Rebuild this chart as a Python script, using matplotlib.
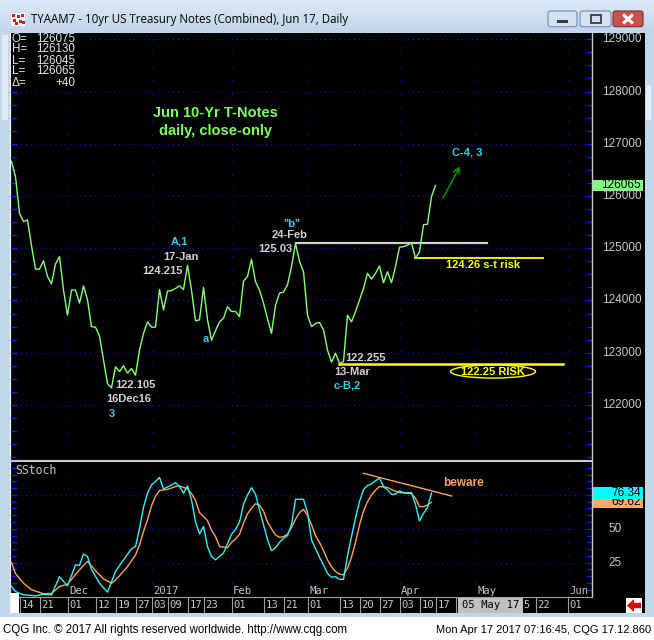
import numpy as np
import matplotlib
matplotlib.use('Agg')
import matplotlib.pyplot as plt
from matplotlib.patches import Rectangle, Ellipse, Polygon, FancyBboxPatch
from matplotlib.transforms import blended_transform_factory as blend
from matplotlib.colors import LinearSegmentedColormap

plt.rcParams['font.family'] = ['Liberation Sans', 'DejaVu Sans']

W, H = 654, 640

# ---------------- data ----------------
# daily closes (points), trading-day index 0 = 10-Nov-2016 ... 106 = 17-Apr-2017
closes = [126.66, 126.37, 125.67, 125.51, 125.54, 125.05, 124.60, 124.60, 124.76, 124.46,
          124.32, 124.70, 124.84, 124.20, 123.72, 124.20, 124.20, 123.95, 124.28, 124.01,
          123.50, 123.49, 123.32, 122.86, 122.41, 122.328, 122.73, 122.64, 122.75, 122.61,
          122.70, 122.57, 123.05, 123.37, 123.59, 123.49, 123.49, 124.21, 123.82, 124.18,
          124.19, 124.23, 124.28, 124.21, 124.672, 124.20, 123.61, 123.63, 124.25, 123.63,
          123.24, 123.42, 123.59, 123.66, 123.88, 123.79, 123.79, 123.69, 124.37, 124.46,
          124.79, 124.36, 124.20, 123.95, 123.65, 123.37, 123.91, 124.14, 124.16, 124.30,
          124.65, 125.094, 124.75, 124.55, 123.72, 123.50, 123.56, 123.58, 123.44, 123.05,
          122.82, 122.99, 122.797, 122.83, 123.72, 123.59, 123.79, 124.01, 124.23, 124.52,
          124.41, 124.52, 124.66, 124.34, 124.55, 124.34, 124.65, 125.02, 125.03, 125.06,
          125.10, 124.8125, 124.93, 125.45, 125.46, 125.99, 126.203]

stoch_k_idx = [0, 1, 3, 6, 8, 10, 12, 14, 16, 17, 18, 19, 20, 22, 24, 26, 28, 30, 31, 32,
               33, 34, 35, 36, 37, 38, 40, 41, 42, 43, 44, 45, 46, 47, 48, 49, 50, 51, 53, 55,
               56, 57, 58, 59, 60, 61, 62, 63, 64, 65, 66, 67, 68, 69, 70, 71, 73, 74, 75, 76,
               77, 78, 79, 80, 81, 82, 83, 84, 85, 86, 87, 88, 89, 90, 91, 92, 93, 94, 95, 96,
               97, 98, 99, 100, 101, 102, 103, 104, 105]
stoch_k_val = [7.5, 3.6, 1.2, 0.5, 1.7, 1.2, 14.6, 7.8, 23.3, 23.0, 31.4, 29.5, 20.0, 9.8, 3.2, 18.5, 27.1, 35.2, 36.9, 50.0,
               66.0, 76.3, 82.4, 84.9, 88.0, 79.4, 82.4, 84.1, 81.2, 76.3, 81.7, 71.3, 55.3, 46.2, 51.7, 36.9, 29.5, 27.1, 32.0, 46.0,
               49.5, 55.0, 68.0, 75.0, 80.4, 75.5, 64.0, 53.0, 42.0, 33.9, 36.0, 40.0, 43.0, 45.0, 53.0, 71.8, 71.8, 62.0, 41.8, 35.5,
               29.0, 23.3, 17.0, 14.2, 14.6, 12.7, 12.7, 30.0, 44.3, 58.0, 70.0, 79.0, 82.0, 83.2, 85.5, 87.4, 81.2, 78.7, 75.5, 75.5,
               78.0, 76.7, 76.7, 76.7, 68.0, 55.8, 61.4, 65.8, 76.34]

stoch_d_idx = [0, 1, 3, 5, 8, 10, 12, 14, 17, 19, 21, 23, 25, 26, 29, 31, 32, 33, 34, 35,
               36, 37, 39, 41, 42, 44, 45, 46, 47, 49, 50, 51, 52, 54, 55, 56, 57, 58, 59, 60,
               61, 62, 63, 64, 65, 66, 67, 68, 69, 70, 71, 72, 73, 74, 75, 76, 77, 78, 79, 80,
               81, 82, 83, 84, 85, 86, 87, 88, 89, 90, 91, 92, 94, 95, 97, 100, 101, 102, 103, 104,
               105]
stoch_d_val = [25, 17, 9.8, 5, 2, 2.3, 7.3, 9.1, 19.7, 26, 19, 13, 9.8, 12, 22.1, 30.7, 38, 48, 56.6, 67,
               74, 78.2, 79.1, 81.2, 81.7, 79.4, 76, 71, 62, 56, 49, 44.3, 37, 36, 40, 42.5, 46, 54.1, 61, 65.2,
               68.5, 67.5, 63, 55, 50, 45.4, 43.7, 44.2, 46, 51, 57, 62, 64.4, 60, 53, 45, 40, 33.9, 27, 22,
               18.4, 16.5, 16, 20.9, 29, 40, 52.9, 63, 70, 75, 78.5, 81.2, 80.5, 79, 76.7, 76, 72.5, 66.4, 66.4, 67.5,
               69.62]

price_ticks = [122, 123, 124, 125, 126, 127, 128, 129]
stoch_labels = [25, 50]
day_tick_idx = [2, 7, 14, 21, 26, 31, 35, 39, 44, 48, 55, 63, 68, 74, 82, 87, 92, 97, 102, 106,
                111, 116, 121, 126, 131, 139]
day_tick_lbl = ['14', '21', '01', '12', '19', '27', '03', '09', '17', '23', '01', '13', '21', '01', '13',
                '20', '27', '03', '10', '17', '24', '01', '08', '15', '22', '01']
cursor_date_lbl = '05 May 17'
month_idx = [14, 35, 55, 74, 97, 116, 139]
month_lbl = ['Dec', '2017', 'Feb', 'Mar', 'Apr', 'May', 'Jun']

info_keys = ['O=', 'H=', 'L=', 'L=', '\u0394=']
info_vals = ['126075', '126130', '126045', '126065', '+40']
last_price_lbl = '126065'
stoch_k_last, stoch_d_last = 76.34, 69.62

# ---------------- figure / chrome ----------------
fig = plt.figure(figsize=(W / 100, H / 100), dpi=100)
fig.patch.set_facecolor('white')
bg = fig.add_axes([0, 0, 1, 1])
bg.axis('off')


def R(x0, y0, x1, y1, **kw):
    kw.setdefault('edgecolor', 'none')
    bg.add_patch(Rectangle((x0, y0), x1 - x0, y1 - y0, **kw))


R(0, 0, W, 617, facecolor='#C3D7EC')
cm = LinearSegmentedColormap.from_list('t', ['#DDE9F6', '#C1D5EB'])
bg.imshow(np.linspace(0, 1, 32)[:, None], extent=(0, W, 32, 0), cmap=cm, aspect='auto', zorder=1)
bg.set_xlim(0, W)
bg.set_ylim(H, 0)
R(2, 35, 8, 120, facecolor='#E4EDF7', zorder=1)
R(646, 85, 651, 120, facecolor='#E4EDF7', zorder=1)
R(10, 32.5, 645, 613, facecolor='black', zorder=2)
bg.plot([9.6, 9.6], [32.5, 613], color='#F0F0F0', lw=0.9, zorder=3)

# title icon
R(11, 13, 25, 26, facecolor='white', zorder=3)
for (ix, iy) in [(12, 14), (17, 15), (21, 14), (13, 19), (19, 20), (22, 21), (15, 22)]:
    R(ix, iy, ix + 3, iy + 3, facecolor='#D02020', zorder=4)
bg.text(31, 19.5, 'TYAAM7 - 10yr US Treasury Notes (Combined), Jun 17, Daily',
        fontsize=8.3, family=['Open Sans', 'DejaVu Sans'], va='center', ha='left', color='black', zorder=4)

# window buttons
for (x0, x1) in [(548, 577), (580, 611)]:
    bg.add_patch(FancyBboxPatch((x0, 11), x1 - x0, 15.7, boxstyle='round,pad=0,rounding_size=2.5',
                                facecolor='#D3E1F1', edgecolor='#6E8BB2', lw=0.8, zorder=4))
R(557, 19.5, 568, 22.5, facecolor='#3A3A3A', zorder=5)
R(590.5, 15, 600.5, 22.5, facecolor='none', edgecolor='#3A3A3A', lw=1.3, zorder=5)
bg.add_patch(FancyBboxPatch((613, 11), 30, 15.7, boxstyle='round,pad=0,rounding_size=2.5',
                            facecolor='#C8534B', edgecolor='#7E2A26', lw=0.8, zorder=4))
bg.plot([623, 633], [14.5, 23.5], color='white', lw=2.2, zorder=5, solid_capstyle='butt')
bg.plot([623, 633], [23.5, 14.5], color='white', lw=2.2, zorder=5, solid_capstyle='butt')

# footer
bg.text(3, 630, 'CQG Inc. \u00a9 2017 All rights reserved worldwide. http://www.cqg.com',
        fontsize=8.3, va='center', ha='left', color='black')
bg.text(651, 630, 'Mon Apr 17 2017 07:16:45, CQG 17.12.860',
        fontsize=8.0, va='center', ha='right', color='black')

# ---------------- price panel ----------------
ax_p = fig.add_axes([11 / W, 1 - 460 / H, (592 - 11) / W, (460 - 33) / H])
ax_p.axis('off')
ax_p.set_xlim(-0.125, 145.125)
ax_p.set_ylim(120.947, 129.12)
trp = blend(bg.transData, ax_p.transData)
tra = blend(ax_p.transAxes, ax_p.transData)

GRID = '#1414FF'
for v in price_ticks:
    ax_p.plot([0, 0.99], [v, v], transform=tra, color=GRID, lw=0.75, ls=(0, (1, 3.7)), zorder=1)
for j in month_idx:
    ax_p.axvline(j, color=GRID, lw=0.75, ls=(0, (1, 12)), zorder=1)
for v in np.arange(121, 129.01, 0.25):
    ax_p.plot([11, 16], [v, v], transform=trp, color=GRID, lw=1, clip_on=False, zorder=2)
    ax_p.plot([587, 592], [v, v], transform=trp, color=GRID, lw=1, clip_on=False, zorder=2)

ax_p.plot(np.arange(len(closes)), closes, color='#86FF70', lw=1.0, zorder=4)

# info block
ax_p.add_patch(Rectangle((11, 33), 70, 54, transform=bg.transData, facecolor='black',
                         edgecolor='none', clip_on=False, zorder=3))
for k, (key, val) in enumerate(zip(info_keys, info_vals)):
    yy = 38.5 + k * 11.0
    ax_p.text(12, yy, key, transform=bg.transData, fontsize=8.4, color='#E6E6E6',
              va='center', ha='left', zorder=5, clip_on=False)
    ax_p.text(75, yy, val, transform=bg.transData, fontsize=8.4, color='#E6E6E6',
              va='center', ha='right', zorder=5, clip_on=False)

# right axis labels
for v in price_ticks:
    ax_p.text(642, v, f'{v}000', transform=trp, fontsize=8.5, color='#C8C8C8',
              ha='right', va='center', clip_on=False)
last = closes[-1]
ax_p.add_patch(Rectangle((593, last - 0.103), 50, 0.206, transform=trp, facecolor='#80FF80',
                         edgecolor='none', clip_on=False, zorder=6))
ax_p.text(641, last, last_price_lbl, transform=trp, fontsize=8.5, color='black',
          ha='right', va='center', clip_on=False, zorder=7)

# annotation lines
ax_p.plot([71, 118.9], [125.094, 125.094], color='#D0D0D0', lw=1.6, zorder=3)
ax_p.plot([100.9, 132.9], [124.8125, 124.8125], color='#FFFF00', lw=1.3, zorder=3)
ax_p.plot([81.9, 137.9], [122.79, 122.79], color='#FFFF00', lw=1.8, zorder=3)
ax_p.add_patch(Ellipse((120.4, 122.64), 21.25, 0.25, facecolor='none', edgecolor='#FFFF00', lw=1, zorder=3))
ax_p.annotate('', xy=(112.1, 126.57), xytext=(107.9, 125.96),
              arrowprops=dict(arrowstyle='->,head_length=0.45,head_width=0.22', color='#00A000',
                              lw=1, shrinkA=0, shrinkB=0))

CY = '#2ED0F0'
GR = '#D2D2D2'
YL = '#FFFF00'
ann = [
    ('Jun 10-Yr T-Notes', 50.9, 127.59, '#7CFF5C', 10.5),
    ('daily, close-only', 50.9, 127.24, '#7CFF5C', 10.5),
    ('A,1', 41.9, 125.12, CY, 8),
    ('17-Jan', 42.4, 124.84, GR, 8),
    ('124.215', 37.75, 124.57, GR, 8),
    ('"b"', 70.0, 125.46, CY, 8),
    ('24-Feb', 69.5, 125.25, GR, 8),
    ('125.03', 66.0, 124.99, GR, 8),
    ('a', 48.6, 123.26, CY, 8),
    ('122.105', 31.1, 122.38, GR, 8),
    ('16Dec16', 29.4, 122.11, GR, 8),
    ('3', 25.1, 121.83, CY, 8),
    ('122.255', 88.6, 122.90, GR, 8),
    ('13-Mar', 85.1, 122.64, GR, 8),
    ('c-B,2', 83.9, 122.38, CY, 8),
    ('C-4, 3', 113.9, 126.83, CY, 8),
    ('124.26 s-t risk', 118.0, 124.68, YL, 8),
    ('122.25 RISK', 120.4, 122.64, YL, 8),
]
for s, xj, yv, c, fs in ann:
    ax_p.text(xj, yv, s, color=c, fontsize=fs, fontweight='bold', ha='center', va='center', zorder=5)

# ---------------- stochastic panel ----------------
ax_s = fig.add_axes([11 / W, 1 - 597 / H, (592 - 11) / W, (597 - 462) / H])
ax_s.axis('off')
ax_s.set_xlim(-0.125, 145.125)
ax_s.set_ylim(-0.37, 99.33)
trs = blend(bg.transData, ax_s.transData)
trsa = blend(ax_s.transAxes, ax_s.transData)
trx = blend(ax_s.transData, bg.transData)

for v in [25, 50, 75]:
    ax_s.plot([0, 0.99], [v, v], transform=trsa, color=GRID, lw=0.75, ls=(0, (1, 3.7)), zorder=1)
for j in month_idx:
    ax_s.axvline(j, color=GRID, lw=0.75, ls=(0, (1, 12)), zorder=1)
for v in range(5, 100, 5):
    ax_s.plot([11, 16], [v, v], transform=trs, color=GRID, lw=1, clip_on=False, zorder=2)
    ax_s.plot([587, 592], [v, v], transform=trs, color=GRID, lw=1, clip_on=False, zorder=2)

ax_s.plot(stoch_d_idx, stoch_d_val, color='#FFA250', lw=1.0, zorder=3)
ax_s.plot(stoch_k_idx, stoch_k_val, color='#30F0F0', lw=1.0, zorder=4)
ax_s.plot([87.95, 110.05], [91, 74.2], color='#FFA250', lw=1.0, zorder=4)
ax_s.text(107.9, 83.7, 'beware', color='#FFA250', fontsize=8.5, fontweight='bold',
          ha='left', va='center', zorder=5)
ax_s.text(15, 471, 'SStoch', transform=bg.transData, fontsize=8.3, family='DejaVu Sans Mono',
          color='#C8C8C8', ha='left', va='center', clip_on=False)

for v in stoch_labels:
    ax_s.text(608, v, f'{v}', transform=trs, fontsize=8.5, color='#C8C8C8', ha='left', va='center',
              clip_on=False)
ax_s.add_patch(Rectangle((593, stoch_d_last - 4.3), 50, 8.6, transform=trs, facecolor='#FFA868',
                         edgecolor='none', clip_on=False, zorder=6))
ax_s.text(641, stoch_d_last, f'{stoch_d_last:.2f}', transform=trs, fontsize=8.5, color='black',
          ha='right', va='center', clip_on=False, zorder=7)
ax_s.add_patch(Rectangle((593, stoch_k_last - 4.3), 50, 8.6, transform=trs, facecolor='#00FFFF',
                         edgecolor='none', clip_on=False, zorder=8))
ax_s.text(641, stoch_k_last, f'{stoch_k_last:.2f}', transform=trs, fontsize=8.5, color='black',
          ha='right', va='center', clip_on=False, zorder=9)

# panel separators
ax_s.plot([11, 592], [461, 461], transform=bg.transData, color='#C8C8C8', lw=1.5, clip_on=False, zorder=10)
ax_s.plot([592, 592], [33, 597], transform=bg.transData, color='#C8C8C8', lw=1.0, clip_on=False, zorder=10)
ax_s.plot([11, 592], [597, 597], transform=bg.transData, color='#A0A0A0', lw=0.8, clip_on=False, zorder=10)

# month labels
for j, s in zip(month_idx, month_lbl):
    ax_s.text(j + 0.4, 591.5, s, transform=trx, fontsize=7.6, family='DejaVu Sans Mono',
              color='#C8C8C8', ha='left', va='center', clip_on=False, zorder=10)

# day labels row; the grey cursor-date box (x 458..523 px) hides the labels beneath it
box_x0, box_x1 = 458, 523
CHAR_W = 7.6 * 0.602 * 100 / 72  # mono glyph advance in px
for j, s in zip(day_tick_idx, day_tick_lbl):
    ax_s.plot([j, j], [598, 612], transform=trx, color='#A0A0A0', lw=0.8, clip_on=False, zorder=10)
    x_px = ax_s.transData.transform((j, 0))[0] - fig.bbox.x0
    x_lbl = x_px + 1.8
    x_end = x_lbl + CHAR_W * len(s)
    if x_lbl >= box_x1 or x_end <= box_x0:
        ax_s.text(x_lbl, 605, s, transform=bg.transData, fontsize=7.6, family='DejaVu Sans Mono',
                  color='#C8C8C8', ha='left', va='center', clip_on=False, zorder=10)
    elif x_end > box_x1:
        n_hidden = int(np.ceil((box_x1 - x_lbl) / CHAR_W))
        ax_s.text(x_lbl + n_hidden * CHAR_W, 605, s[n_hidden:], transform=bg.transData, fontsize=7.6,
                  family='DejaVu Sans Mono', color='#C8C8C8', ha='left', va='center',
                  clip_on=False, zorder=10)
ax_s.add_patch(Rectangle((box_x0, 597.5), box_x1 - box_x0, 15, transform=bg.transData,
                         facecolor='#C0C0C0', edgecolor='none', clip_on=False, zorder=11))
ax_s.text((box_x0 + box_x1) / 2, 605, cursor_date_lbl, transform=bg.transData, fontsize=7.6,
          family='DejaVu Sans Mono', color='black', ha='center', va='center', clip_on=False, zorder=12)
ax_s.add_patch(Rectangle((11, 593), 8, 20, transform=bg.transData, facecolor='white',
                         edgecolor='none', clip_on=False, zorder=11))
# red arrow icon
ax_s.add_patch(Rectangle((626, 598), 16, 15, transform=bg.transData, facecolor='white',
                         edgecolor='none', clip_on=False, zorder=11))
ax_s.add_patch(Polygon([(627, 605.5), (634, 599), (634, 602.8), (641, 602.8), (641, 608.2),
                        (634, 608.2), (634, 612)], closed=True, transform=bg.transData,
                       facecolor='#E00000', edgecolor='none', clip_on=False, zorder=12))

fig.savefig('out.png', dpi=100, facecolor=fig.get_facecolor())
